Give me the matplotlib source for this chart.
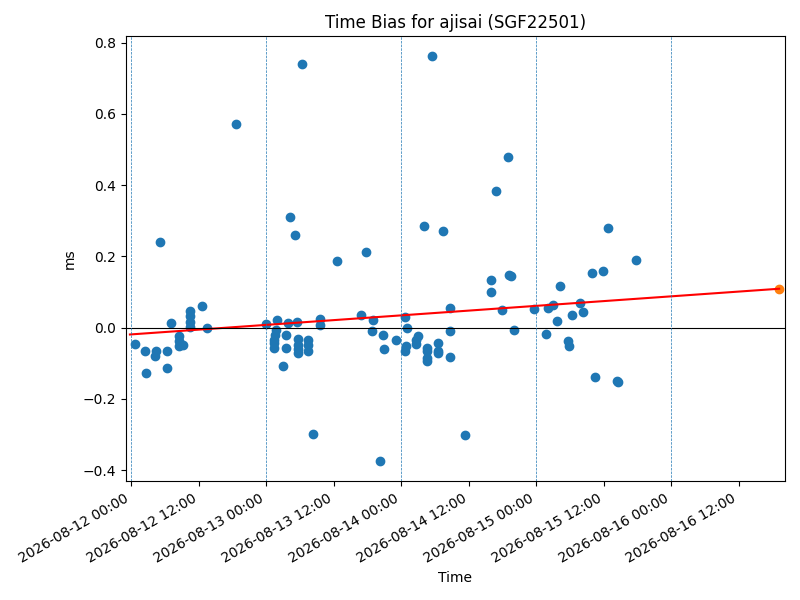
import numpy as np
import pandas as pd
import matplotlib
matplotlib.use("Agg")
import matplotlib.pyplot as plt
import matplotlib.dates as mdates

# 观测时间与时间偏差 (ms)
times = [
    "2026-08-12 00:36", "2026-08-12 02:23", "2026-08-12 02:33", "2026-08-12 04:19",
    "2026-08-12 04:16", "2026-08-12 05:02", "2026-08-12 06:23", "2026-08-12 06:20",
    "2026-08-12 07:06", "2026-08-12 08:28", "2026-08-12 08:28", "2026-08-12 08:28",
    "2026-08-12 09:10", "2026-08-12 10:29", "2026-08-12 10:29", "2026-08-12 10:29",
    "2026-08-12 10:29", "2026-08-12 12:33", "2026-08-12 13:26", "2026-08-12 18:33",
    "2026-08-12 23:53", "2026-08-13 01:54", "2026-08-13 01:47", "2026-08-13 01:39",
    "2026-08-13 01:28", "2026-08-13 01:18", "2026-08-13 01:28", "2026-08-13 02:57",
    "2026-08-13 03:26", "2026-08-13 03:26", "2026-08-13 03:50", "2026-08-13 04:19",
    "2026-08-13 05:02", "2026-08-13 05:27", "2026-08-13 06:17", "2026-08-13 05:37",
    "2026-08-13 05:37", "2026-08-13 05:37", "2026-08-13 05:37", "2026-08-13 07:31",
    "2026-08-13 07:31", "2026-08-13 07:24", "2026-08-13 08:17", "2026-08-13 09:29",
    "2026-08-13 09:29", "2026-08-13 12:30", "2026-08-13 16:49", "2026-08-13 17:43",
    "2026-08-13 18:58", "2026-08-13 18:46", "2026-08-13 20:12", "2026-08-13 20:44",
    "2026-08-13 20:54", "2026-08-13 23:02",
    "2026-08-14 00:39", "2026-08-14 01:00", "2026-08-14 00:46", "2026-08-14 00:39",
    "2026-08-14 03:58", "2026-08-14 02:33", "2026-08-14 03:01", "2026-08-14 02:33",
    "2026-08-14 04:34", "2026-08-14 04:34", "2026-08-14 04:34", "2026-08-14 04:34",
    "2026-08-14 05:27", "2026-08-14 07:21", "2026-08-14 06:32", "2026-08-14 06:37",
    "2026-08-14 06:37", "2026-08-14 08:36", "2026-08-14 08:36", "2026-08-14 08:36",
    "2026-08-14 11:25", "2026-08-14 15:56", "2026-08-14 15:56", "2026-08-14 16:47",
    "2026-08-14 17:53", "2026-08-14 18:58", "2026-08-14 19:26", "2026-08-14 19:12",
    "2026-08-14 20:01", "2026-08-14 23:41",
    "2026-08-15 01:42", "2026-08-15 02:04", "2026-08-15 03:04", "2026-08-15 03:40",
    "2026-08-15 04:19", "2026-08-15 05:37", "2026-08-15 05:48", "2026-08-15 06:24",
    "2026-08-15 07:45", "2026-08-15 08:24", "2026-08-15 09:53", "2026-08-15 10:25",
    "2026-08-15 11:50", "2026-08-15 12:43", "2026-08-15 14:34", "2026-08-15 14:24",
    "2026-08-15 17:50",
]
bias = [
    -0.045, -0.066, -0.127, -0.064, -0.079, 0.240, -0.066, -0.113,
    0.013, -0.022, -0.036, -0.050, -0.048, 0.046, 0.032, 0.015,
    0.001, 0.061, -0.001, 0.571,
    0.011, 0.022, -0.006, -0.020, -0.034, -0.043, -0.057, -0.107,
    -0.020, -0.057, 0.013, 0.310, 0.261, 0.016, 0.740, -0.032,
    -0.048, -0.060, -0.072, -0.034, -0.048, -0.064, -0.298, 0.025,
    0.008, 0.187, 0.036, 0.212, 0.021, -0.009, -0.374, -0.021,
    -0.060, -0.035,
    0.031, -0.001, -0.050, -0.066, 0.285, -0.034, -0.022, -0.045,
    -0.057, -0.066, -0.093, -0.085, 0.762, 0.271, -0.043, -0.064,
    -0.070, 0.055, -0.009, -0.082, -0.301, 0.135, 0.100, 0.383,
    0.050, 0.479, 0.145, 0.147, -0.007, 0.052,
    -0.017, 0.055, 0.064, 0.019, 0.118, -0.036, -0.050, 0.036,
    0.070, 0.044, 0.153, -0.138, 0.160, 0.280, -0.152, -0.150,
    0.190,
]

# 线性拟合参数与预测点
fit_start = "2026-08-11 23:46"
fit_intercept = -0.019   # ms at fit_start
fit_slope = 0.0267       # ms per day
pred_time = "2026-08-16 19:12"
pred_bias = 0.109

midnights = ["2026-08-12", "2026-08-13", "2026-08-14", "2026-08-15", "2026-08-16"]
xlim = ("2026-08-11 23:00", "2026-08-16 20:12")

t = pd.to_datetime(times)
t0 = pd.Timestamp(fit_start)
t1 = pd.Timestamp(pred_time)
fit_t = [t0, t1]
fit_days = np.array([(x - t0).total_seconds() / 86400 for x in fit_t])
fit_y = fit_intercept + fit_slope * fit_days

fig, ax = plt.subplots(figsize=(8, 6), dpi=100)
ax.set_title("Time Bias for ajisai (SGF22501)")
ax.scatter(t, bias)
ax.plot(fit_t, fit_y, color="red")
ax.scatter([t1], [pred_bias])
ax.axhline(0, color="black", linewidth=0.8)
for d in midnights:
    ax.axvline(pd.Timestamp(d), linestyle="--", linewidth=0.5, color="C0")

ax.set_xlim(pd.Timestamp(xlim[0]), pd.Timestamp(xlim[1]))
ax.xaxis.set_major_locator(mdates.HourLocator(byhour=[0, 12]))
ax.xaxis.set_major_formatter(mdates.DateFormatter("%Y-%m-%d %H:%M"))
ax.set_xlabel("Time")
ax.set_ylabel("ms")
fig.autofmt_xdate()
fig.subplots_adjust(left=0.157, right=0.981, top=0.94, bottom=0.198)
fig.savefig("out.png")
